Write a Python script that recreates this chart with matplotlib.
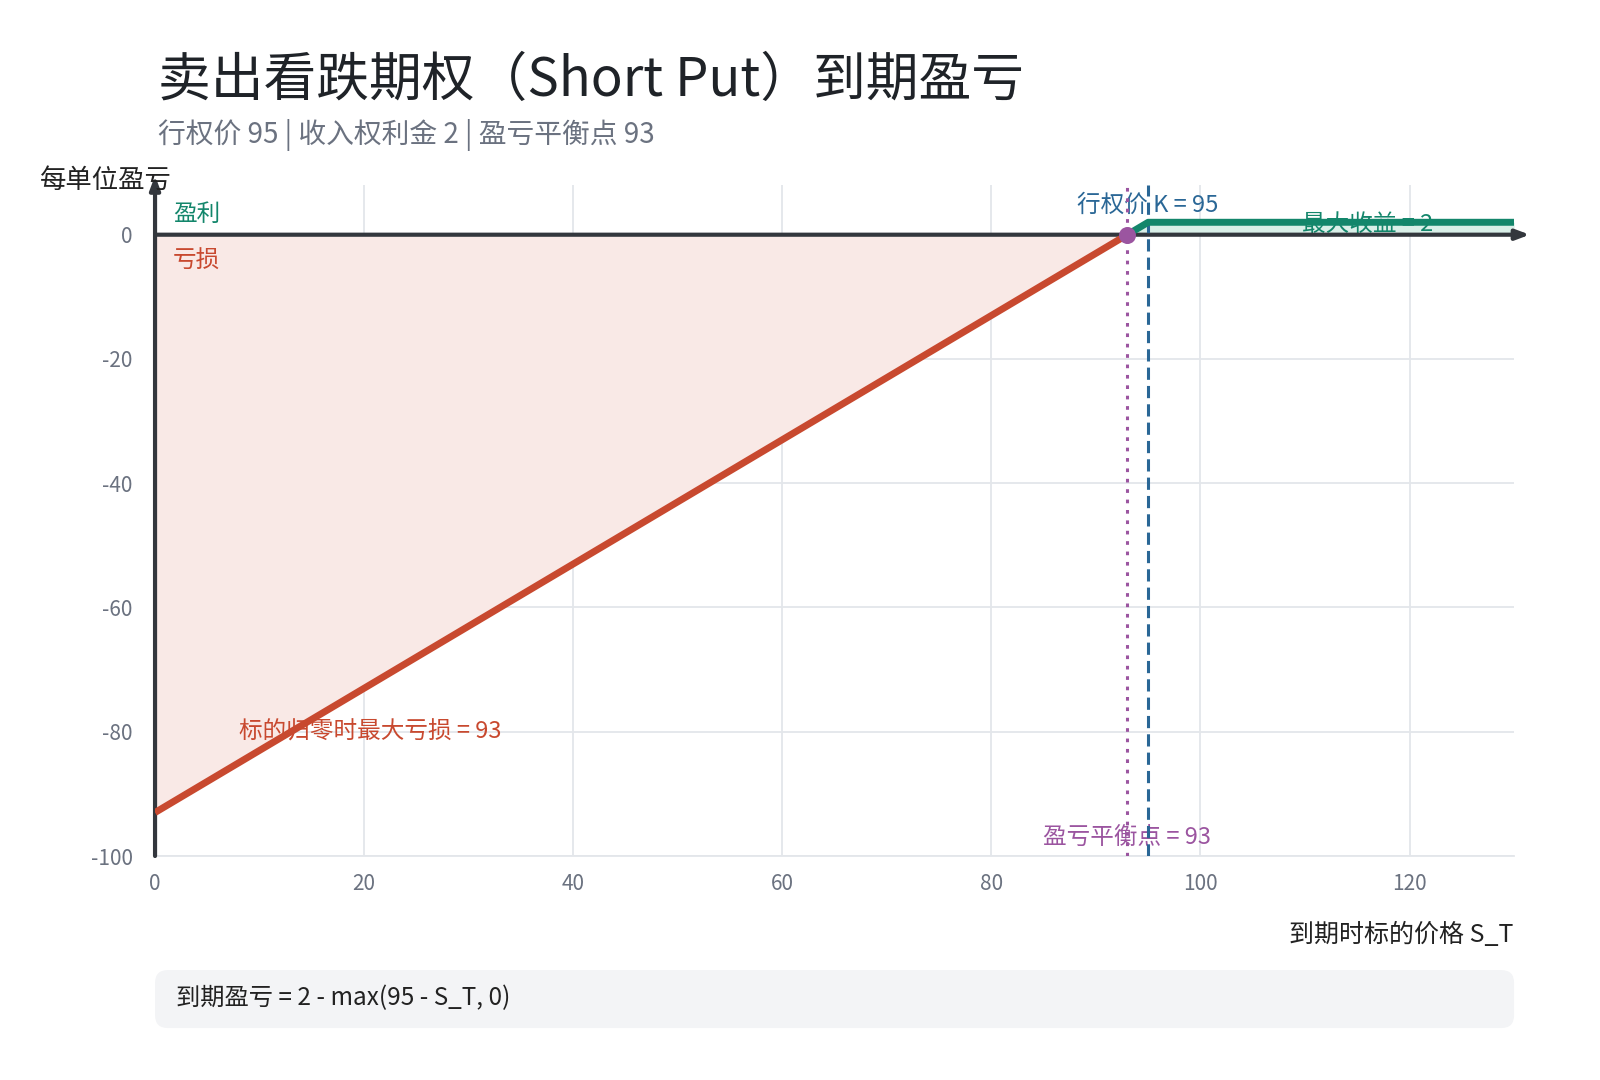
import matplotlib.pyplot as plt
from matplotlib.patches import FancyBboxPatch

plt.rcParams["font.family"] = ["Noto Sans CJK SC", "DejaVu Sans"]
plt.rcParams["axes.unicode_minus"] = False

# payoff pieces of the short put (K=95, premium=2)
loss_x = [0, 93]
loss_y = [-93, 0]
gain_x = [93, 95, 130]
gain_y = [0, 2, 2]
strike = 95
breakeven = 93
x_ticks = [0, 20, 40, 60, 80, 100, 120]
y_ticks = [0, -20, -40, -60, -80, -100]

red = "#c8492f"
green = "#13866b"
blue = "#2a6796"
purple = "#9b55a0"
dark = "#33373d"
gray = "#6b7280"
grid_c = "#e3e6ea"

fig = plt.figure(figsize=(16, 10.8), dpi=100)
ax = fig.add_axes([0.0969, 0.2074, 0.8494, 0.6213])
ax.set_xlim(0, 130)
ax.set_ylim(-100, 8)

# shaded regions
ax.fill_between(loss_x, loss_y, 0, color="#f9e9e6", zorder=1, lw=0)
ax.fill_between(gain_x, gain_y, 0, color="#d9efe8", zorder=1, lw=0)

ax.set_xticks(x_ticks)
ax.set_yticks(y_ticks)
ax.grid(True, color=grid_c, lw=1.3, zorder=0)
ax.set_axisbelow(True)
for s in ["top", "right", "left"]:
    ax.spines[s].set_visible(False)
ax.spines["bottom"].set_color(grid_c)
ax.spines["bottom"].set_linewidth(1.3)
ax.tick_params(length=0, labelsize=15, labelcolor=gray)
ax.tick_params(axis="x", pad=12)
ax.tick_params(axis="y", pad=16)

# annotations below the lines
ax.text(1.7, 3.3, "盈利", color=green, fontsize=17, va="center", ha="left", zorder=2)
ax.text(1.7, -4.3, "亏损", color=red, fontsize=17, va="center", ha="left", zorder=2)
ax.text(strike, 4.8, "行权价 K = 95", color=blue, fontsize=17, ha="center", va="center", zorder=2)
ax.text(116, 1.6, "最大收益 = 2", color=green, fontsize=17, ha="center", va="center", zorder=2)
ax.text(8, -80, "标的归零时最大亏损 = 93", color=red, fontsize=17, ha="left", va="center", zorder=2)
ax.text(breakeven, -97, "盈亏平衡点 = 93", color=purple, fontsize=17, ha="center", va="center", zorder=2)

# axis arrows
ax.annotate("", xy=(131.5, 0), xytext=(0, 0), annotation_clip=False, zorder=3,
            arrowprops=dict(arrowstyle="-|>,head_length=0.8,head_width=0.3", color=dark, lw=3, shrinkA=0, shrinkB=0))
ax.annotate("", xy=(0, 9.5), xytext=(0, -100), annotation_clip=False, zorder=3,
            arrowprops=dict(arrowstyle="-|>,head_length=0.8,head_width=0.3", color=dark, lw=3, shrinkA=0, shrinkB=0))

ax.axvline(breakeven, color=purple, lw=2.2, ls=(0, (1.2, 2.2)), zorder=3)
ax.axvline(strike, color=blue, lw=2.2, ls=(0, (4, 2)), zorder=3)

ax.plot(loss_x, loss_y, color=red, lw=5, solid_capstyle="butt", zorder=4)
ax.plot(gain_x, gain_y, color=green, lw=5, solid_capstyle="butt", solid_joinstyle="round", zorder=4)
ax.scatter([breakeven], [0], s=150, color=purple, zorder=5, lw=0)

# titles
fig.text(0.0985, 0.911, "卖出看跌期权（Short Put）到期盈亏", fontsize=38, color="#1f2328", va="baseline")
fig.text(0.0985, 0.868, "行权价 95 | 收入权利金 2 | 盈亏平衡点 93", fontsize=20, color=gray, va="baseline")
fig.text(0.025, 0.826, "每单位盈亏", fontsize=19, color="#222222", va="baseline")
fig.text(0.946, 0.134, "到期时标的价格 S_T", fontsize=18, color="#222222", ha="right", va="center")

# formula box
box = FancyBboxPatch((0.0969, 0.0481), 0.8494, 0.0537, transform=fig.transFigure,
                     boxstyle="round,pad=0,rounding_size=0.008", mutation_aspect=1600 / 1080,
                     facecolor="#f3f4f6", edgecolor="none")
fig.patches.append(box)
fig.text(0.11, 0.076, "到期盈亏 = 2 - max(95 - S_T, 0)", fontsize=17.5, color="#222222", va="center")

fig.savefig("out.png", dpi=100, facecolor="white")
